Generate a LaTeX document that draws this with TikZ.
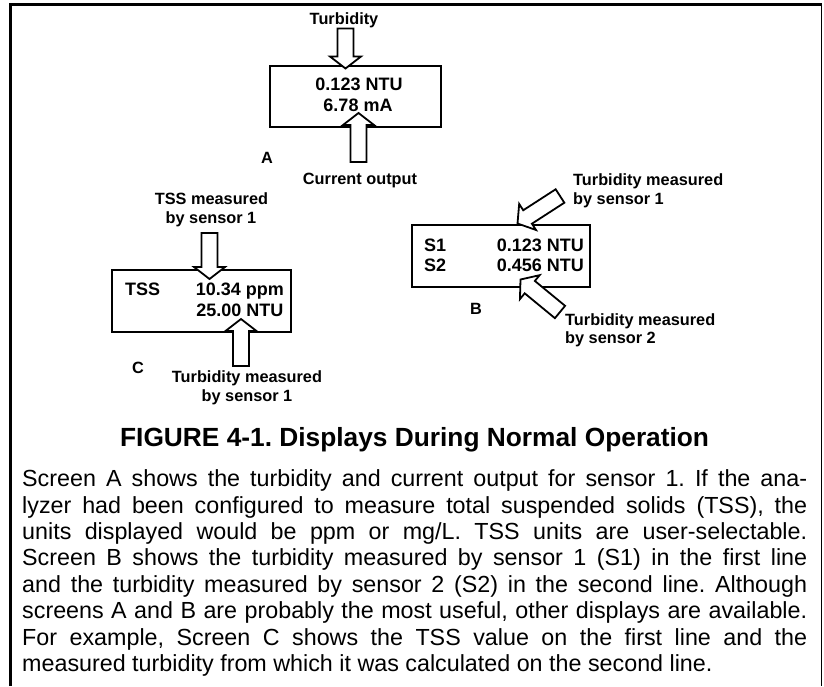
\documentclass[tikz,border=0pt]{standalone}
\usepackage{fontspec}
\setmainfont{Liberation Sans}
\usetikzlibrary{calc}
\frenchspacing
\tikzset{
  lbl/.style={font=\fontsize{16.3}{19}\selectfont\bfseries, inner sep=0, anchor=base},
  lblw/.style={lbl, anchor=base west},
  val/.style={font=\fontsize{18}{21}\selectfont\bfseries, inner sep=0, anchor=base},
  vall/.style={val, anchor=base west},
  valr/.style={val, anchor=base east},
  scr/.style={draw, line width=2pt, inner sep=0},
  blk/.style={draw, fill=white, line width=1.8pt, line join=miter},
  para/.style={font=\fontsize{23.3}{26.4}\selectfont\frenchspacing, inner sep=0, anchor=base west},
  capt/.style={font=\fontsize{26.3}{30}\selectfont\bfseries\frenchspacing, inner sep=0, anchor=base},
}
\newcommand\blockarrow[2]{%
  \draw[blk] let \p1=($(#2)-(#1)$), \n1={atan2(\y1,\x1)}, \n2={veclen(\x1,\y1)-12pt} in
    ($(#1)+(\n1+90:8pt)$) -- ($(#1)+(\n1:\n2)+(\n1+90:8pt)$)
    -- ($(#1)+(\n1:\n2)+(\n1+90:15.5pt)$) -- (#2)
    -- ($(#1)+(\n1:\n2)+(\n1-90:15.5pt)$) -- ($(#1)+(\n1:\n2)+(\n1-90:8pt)$)
    -- ($(#1)+(\n1-90:8pt)$) -- cycle;}
\begin{document}
\begin{tikzpicture}[x=1pt,y=-1pt]
\useasboundingbox (0,0) rectangle (824,686);
\fill[white] (0,0) rectangle (824,686);
% frame
\draw[line width=2.7pt] (10.7,686) -- (10.7,4.7) -- (822,4.7);
\draw[line width=1.3pt] (821.3,4.7) -- (821.3,686);

% ---------- Screen A ----------
\node[scr, minimum width=171pt, minimum height=61pt] (scrA) at (355.5,96.5) {};
\coordinate (aInT) at (345.5,28.5);
\coordinate (aInH) at (345.5,68.5);
\coordinate (aOutT) at (358.5,162);
\coordinate (aOutH) at (358.5,113);
\blockarrow{aInT}{aInH}
\blockarrow{aOutT}{aOutH}
\node[val] (a1) at (359,90) {0.123 NTU};
\node[val] (a2) at (358,111.7) {6.78 mA};
\node[lbl] (aturb) at (344,24.5) {Turbidity};
\node[lbl] (acur) at (360,184.3) {Current output};
\node[lbl] (aname) at (267,163.3) {A};

% ---------- Screen B ----------
\node[scr, minimum width=178pt, minimum height=62pt] (scrB) at (501,256) {};
\coordinate (b1T) at (560,196);
\coordinate (b1H) at (517.5,223.5);
\coordinate (b2T) at (560,312);
\coordinate (b2H) at (520.5,279.5);
\blockarrow{b1T}{b1H}
\blockarrow{b2T}{b2H}
\node[vall] (bs1) at (424,251.5) {S1};
\node[vall] (bs2) at (424,271.5) {S2};
\node[valr] (bv1) at (584,251.5) {0.123 NTU};
\node[valr] (bv2) at (584,271.5) {0.456 NTU};
\node[lbl] (bname) at (476,314) {B};
\node[lblw] (bl1a) at (573,185) {Turbidity measured};
\node[lblw] (bl1b) at (573,204) {by sensor 1};
\node[lblw] (bl2a) at (565,325) {Turbidity measured};
\node[lblw] (bl2b) at (565,343.3) {by sensor 2};

% ---------- Screen C ----------
\node[scr, minimum width=179.3pt, minimum height=62pt] (scrC) at (201.35,301) {};
\coordinate (cInT) at (209.5,233);
\coordinate (cInH) at (209.5,279);
\coordinate (cOutT) at (241,366);
\coordinate (cOutH) at (241,319);
\blockarrow{cInT}{cInH}
\blockarrow{cOutT}{cOutH}
\node[vall] (ctss) at (125,295) {TSS};
\node[valr] (cv1) at (284,295) {10.34 ppm};
\node[valr] (cv2) at (283.5,316.7) {25.00 NTU};
\node[lbl] (cl1a) at (211.5,204.3) {TSS measured};
\node[lbl] (cl1b) at (211,223.3) {by sensor 1};
\node[lbl] (cname) at (138,373.3) {C};
\node[lbl] (cl2a) at (247,382.7) {Turbidity measured};
\node[lbl] (cl2b) at (247,401.5) {by sensor 1};

% ---------- caption and text ----------
\node[capt] (capt) at (414.6,446.7) {FIGURE 4-1. Displays During Normal Operation};
\node[para] (p1) at (22,486.7) {\makebox[785pt][s]{Screen A shows the turbidity and current output for sensor 1. If the ana-}};
\node[para] (p2) at (22,513.1) {\makebox[785pt][s]{lyzer had been configured to measure total suspended solids (TSS), the}};
\node[para] (p3) at (22,539.5) {\makebox[785pt][s]{units displayed would be ppm or mg/L. TSS units are user-selectable.}};
\node[para] (p4) at (22,565.9) {\makebox[785pt][s]{Screen B shows the turbidity measured by sensor 1 (S1) in the first line}};
\node[para] (p5) at (22,592.3) {\makebox[785pt][s]{and the turbidity measured by sensor 2 (S2) in the second line. Although}};
\node[para] (p6) at (22,618.7) {\makebox[785pt][s]{screens A and B are probably the most useful, other displays are available.}};
\node[para] (p7) at (22,645.1) {\makebox[785pt][s]{For example, Screen C shows the TSS value on the first line and the}};
\node[para] (p8) at (22,671.5) {measured turbidity from which it was calculated on the second line.};
\end{tikzpicture}
\end{document}
